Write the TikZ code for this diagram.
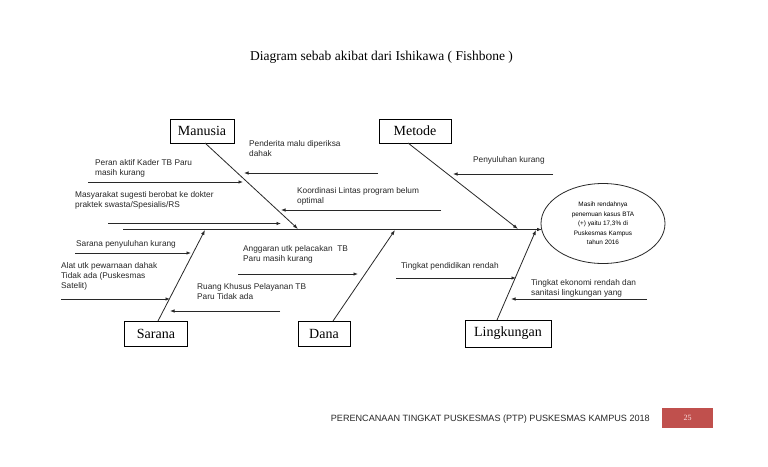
\documentclass[tikz,border=0pt]{standalone}
\usepackage{fontspec}
\setmainfont{Liberation Serif}
\setsansfont{Liberation Sans}
\usetikzlibrary{arrows.meta,shapes.geometric}
\definecolor{linegray}{RGB}{40,40,40}
\definecolor{pagered}{RGB}{192,80,77}
\definecolor{numpink}{RGB}{250,225,225}
\tikzset{
  lbl/.style={font=\fontsize{8.3}{10}\selectfont\sffamily, align=left, inner sep=0pt, anchor=base west, text=black!85},
  catbox/.style={draw=black, line width=0.9pt, font=\fontsize{14}{16}\selectfont, inner sep=0pt, minimum height=24pt},
  bone/.style={draw=linegray, line width=0.8pt, -{Latex[length=5pt,width=3.5pt]}},
  sub/.style={draw=linegray, line width=0.8pt, -{Latex[length=4.5pt,width=3.5pt]}},
}
\begin{document}
\begin{tikzpicture}[x=1pt,y=-1pt]
\useasboundingbox[fill=white] (0,0) rectangle (768,466);

% title
\node[font=\fontsize{13.5}{15}\selectfont, anchor=base, inner sep=0pt] (title) at (381.5,60.5) {Diagram sebab akibat dari Ishikawa ( Fishbone )};

% category boxes
\node[catbox, minimum width=64pt] (manusia) at (202,131) {Manusia};
\node[catbox, minimum width=72pt] (metode) at (415,131) {Metode};
\node[catbox, minimum width=63pt, minimum height=25pt] (sarana) at (156,333.5) {Sarana};
\node[catbox, minimum width=52pt, minimum height=25pt] (dana) at (324,333.5) {Dana};
\node[catbox, minimum width=86pt, minimum height=27pt] (lingkungan) at (508,333.5) {Lingkungan};

% effect
\node[draw=linegray, line width=0.8pt, ellipse, minimum width=124pt, minimum height=80pt, inner sep=0pt,
      font=\fontsize{6.4}{9.5}\selectfont\sffamily, align=center] (effect) at (603,223.5)
  {Masih rendahnya\\penemuan kasus BTA\\(+) yaitu 17,3\% di\\Puskesmas Kampus\\tahun 2016};

% spine
\coordinate (s0) at (123,229.5);
\coordinate (s1) at (542,229.5);
\draw[bone] (s0) -- (s1);

% bones
\coordinate (m0) at (205,143);   \coordinate (m1) at (298,229);
\coordinate (t0) at (408,143);   \coordinate (t1) at (518,229);
\coordinate (r0) at (158,321);   \coordinate (r1) at (205,230);
\coordinate (d0) at (333,321);   \coordinate (d1) at (395,230);
\coordinate (l0) at (497,320);   \coordinate (l1) at (536,230);
\draw[bone] (m0) -- (m1);
\draw[bone] (t0) -- (t1);
\draw[bone] (r0) -- (r1);
\draw[bone] (d0) -- (d1);
\draw[bone] (l0) -- (l1);

% labels (anchor = baseline of the last line)
\node[lbl] (penderita) at (249,156.5) {Penderita malu diperiksa\\dahak};
\node[lbl] (peran) at (95,175) {Peran aktif Kader TB Paru\\masih kurang};
\node[lbl] (koordinasi) at (297,203) {Koordinasi Lintas program belum\\optimal};
\node[lbl] (masyarakat) at (75,207.5) {Masyarakat sugesti berobat ke dokter\\praktek swasta/Spesialis/RS};
\node[lbl] (penyuluhan) at (473,162) {Penyuluhan kurang};
\node[lbl] (saranapeny) at (76,246) {Sarana penyuluhan kurang};
\node[lbl] (alat) at (61,288) {Alat utk pewarnaan dahak\\Tidak ada (Puskesmas\\Satelit)};
\node[lbl] (ruang) at (197,299) {Ruang Khusus Pelayanan TB\\Paru Tidak ada};
\node[lbl] (anggaran) at (243,261) {Anggaran utk pelacakan\ \ TB\\Paru masih kurang};
\node[lbl] (pendidikan) at (401,268) {Tingkat pendidikan rendah};
\node[lbl] (ekonomi) at (531,295) {Tingkat ekonomi rendah dan\\sanitasi lingkungan yang};

% sub-cause arrows
\coordinate (a1s) at (378,173); \coordinate (a1e) at (244,173);
\coordinate (a2s) at (88,182);  \coordinate (a2e) at (243,182);
\coordinate (a3s) at (441,210); \coordinate (a3e) at (281,210);
\coordinate (a4s) at (108,223.5); \coordinate (a4e) at (281,223.5);
\coordinate (a5s) at (553,174); \coordinate (a5e) at (453,174);
\coordinate (a6s) at (75,253);  \coordinate (a6e) at (191,253);
\coordinate (a7s) at (61,299);  \coordinate (a7e) at (170,299);
\coordinate (a8s) at (280,311); \coordinate (a8e) at (170,311);
\coordinate (a9s) at (238,274); \coordinate (a9e) at (358,274);
\coordinate (a10s) at (396,278); \coordinate (a10e) at (516,278);
\coordinate (a11s) at (647,299); \coordinate (a11e) at (511,299);
\foreach \i in {1,...,11} \draw[sub] (a\i s) -- (a\i e);

% footer
\node[font=\fontsize{9.1}{11}\selectfont\sffamily, anchor=base east, inner sep=0pt, text=black!85] (footer) at (650,421.5)
  {PERENCANAAN TINGKAT PUSKESMAS (PTP) PUSKESMAS KAMPUS 2018};
\node[fill=pagered, minimum width=51pt, minimum height=20pt, inner sep=0pt, text=numpink,
      font=\fontsize{8}{9}\selectfont] (page) at (687.5,418) {25};
\end{tikzpicture}
\end{document}
